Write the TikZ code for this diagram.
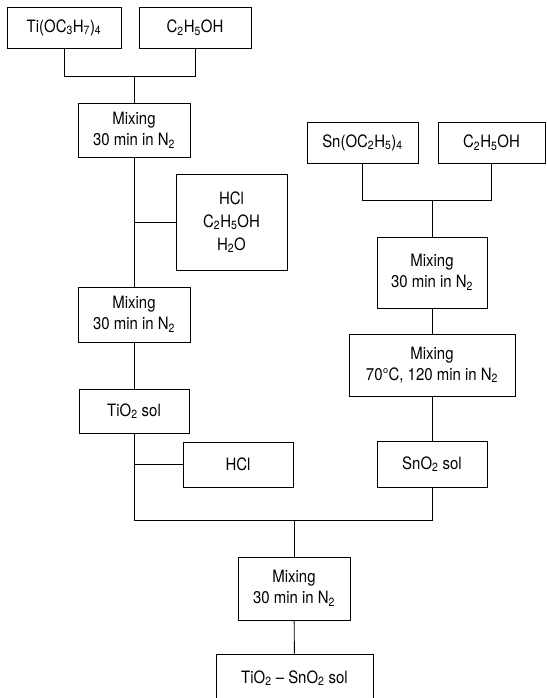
\documentclass[tikz,border=0pt]{standalone}
\usepackage{fontspec}
\setmainfont{TeX Gyre Heros}[FakeStretch=0.88]
\usetikzlibrary{positioning,calc}

\begin{document}
\begin{tikzpicture}[x=1pt, y=-1pt,
    box/.style={rectangle, draw, line width=0.9pt, align=center, inner sep=2pt,
                font=\fontsize{17}{21}\selectfont},
    link/.style={line width=0.9pt},
]
\useasboundingbox (0,0) rectangle (546,698);

% Ti sol line
\node[box, minimum width=114pt, minimum height=41pt] (tipr) at (64,27.5) {Ti(OC\textsubscript{3}H\textsubscript{7})\textsubscript{4}};
\node[box, minimum width=112pt, minimum height=41pt] (etha) at (195,27.5) {C\textsubscript{2}H\textsubscript{5}OH};
\node[box, minimum width=112pt, minimum height=54pt] (mixa) at (134,130.5) {Mixing\\30 min in N\textsubscript{2}};
\node[box, minimum width=111pt, minimum height=96pt, font=\fontsize{17}{23}\selectfont] (acid) at (231.5,222) {HCl\\C\textsubscript{2}H\textsubscript{5}OH\\H\textsubscript{2}O};
\node[box, minimum width=112pt, minimum height=55pt] (mixb) at (134,314.5) {Mixing\\30 min in N\textsubscript{2}};
\node[box, minimum width=110pt, minimum height=44pt] (tisol) at (134,411) {TiO\textsubscript{2} sol};
\node[box, minimum width=110pt, minimum height=45pt] (hcl) at (238,464.5) {HCl};

% Sn sol line
\node[box, minimum width=111pt, minimum height=41pt] (snet) at (362.5,142.5) {Sn(OC\textsubscript{2}H\textsubscript{5})\textsubscript{4}};
\node[box, minimum width=107pt, minimum height=41pt] (ethb) at (491.5,142.5) {C\textsubscript{2}H\textsubscript{5}OH};
\node[box, minimum width=110pt, minimum height=71pt] (mixc) at (432,272.5) {Mixing\\30 min in N\textsubscript{2}};
\node[box, minimum width=166pt, minimum height=62pt] (mixd) at (432,365) {Mixing\\70°C, 120 min in N\textsubscript{2}};
\node[box, minimum width=110pt, minimum height=46pt] (snsol) at (432,464) {SnO\textsubscript{2} sol};

% Final mixing
\node[box, minimum width=112pt, minimum height=63pt] (mixe) at (294,588.5) {Mixing\\30 min in N\textsubscript{2}};
\node[box, minimum width=157pt, minimum height=48pt] (final) at (294.5,678) {TiO\textsubscript{2} -- SnO\textsubscript{2} sol};

\coordinate (ja) at (134,76);
\coordinate (jb) at (432,200);
\coordinate (jc) at (294,520);

\foreach \a/\b in {tipr/ja, etha/ja, snet/jb, ethb/jb, tisol/jc, snsol/jc}
    \draw[link] (\a.south) |- (\b);
\foreach \a/\b in {ja/mixa, mixa/mixb, mixb/tisol, jb/mixc, mixc/mixd, mixd/snsol, jc/mixe, mixe/final}
    \draw[link] (\a) -- (\b);
\draw[link] (acid.west) -- (acid.west -| mixa.south);
\draw[link] (hcl.west) -- (hcl.west -| tisol.south);
\end{tikzpicture}
\end{document}
